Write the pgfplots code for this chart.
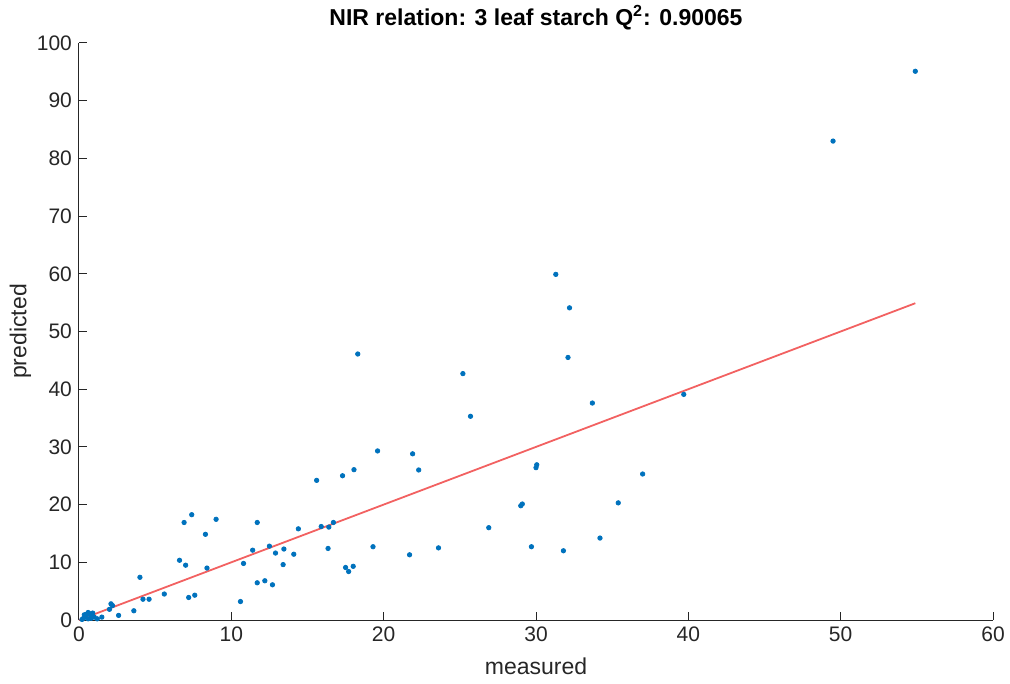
\documentclass[border=0pt]{standalone}
\usepackage{fontspec}
\setmainfont{Liberation Sans}
\usepackage{pgfplots}
\pgfplotsset{compat=1.18}
\definecolor{mblue}{rgb}{0,0.447,0.741}
\definecolor{mred}{rgb}{0.95,0.38,0.38}
\definecolor{axgray}{rgb}{0.15,0.15,0.15}
\begin{document}
\begin{tikzpicture}
\path[use as bounding box] (-39.5pt,-32pt) rectangle (465.5pt,310pt);
\begin{axis}[
  scale only axis,
  width=457pt, height=288.5pt,
  xmin=0, xmax=60, ymin=0, ymax=100,
  xtick={0,10,...,60}, ytick={0,10,...,100},
  axis x line*=bottom, axis y line*=left,
  xtick pos=left, ytick pos=left,
  tick align=inside,
  major tick length=4pt,
  axis line style={axgray, line width=0.5pt},
  tick style={axgray, line width=0.5pt},
  every tick label/.append style={font=\fontsize{10.5}{12}\selectfont, text=axgray},
  /pgf/number format/assume math mode=true,
  xlabel={measured}, ylabel={predicted},
  label style={font=\fontsize{11.5}{13}\selectfont, text=axgray},
  xlabel style={yshift=-1pt},
  ylabel style={yshift=-4pt},
  title={\textbf{NIR relation: 3 leaf starch Q\textsuperscript{2}: 0.90065}},
  title style={font=\fontsize{11.5}{13}\selectfont, yshift=-3pt},
]
\addplot[mred, line width=0.9pt] coordinates {(0,0) (54.9,54.9)};
\addplot[only marks, mark=*, mark size=1.1pt, mblue, mark options={draw=mblue, fill=mblue}] coordinates {
(54.9,95.1) (49.5,83.0) (31.3,59.9) (32.2,54.1) (18.3,46.1) (32.1,45.5)
(25.2,42.7) (33.7,37.6) (39.7,39.1) (25.7,35.3) (19.6,29.3) (21.9,28.8)
(22.3,26.0) (30.0,26.4) (30.05,26.9) (37.0,25.3) (15.6,24.2) (17.3,25.0)
(18.05,26.05) (29.0,19.8) (29.1,20.1) (35.4,20.3) (26.9,16.0) (34.2,14.2)
(29.7,12.7) (23.6,12.5) (31.8,12.0) (21.7,11.3) (19.3,12.7) (14.4,15.8)
(15.9,16.2) (16.4,16.1) (16.7,16.9) (12.5,12.8) (12.9,11.6) (13.45,12.3)
(14.1,11.4) (16.35,12.4) (13.4,9.6) (17.5,9.1) (17.7,8.4) (18.0,9.3)
(12.2,6.8) (12.7,6.1) (11.7,6.45) (7.4,18.25) (6.9,16.9) (9.0,17.45)
(11.7,16.9) (8.3,14.85) (11.4,12.1) (6.6,10.35) (7.0,9.5) (8.4,9.0)
(10.8,9.8) (5.6,4.5) (7.2,3.9) (7.6,4.3) (10.6,3.2) (4.0,7.4)
(4.2,3.6) (4.6,3.6) (3.6,1.6) (2.6,0.8) (2.1,2.8) (2.2,2.5)
(2.0,1.85) (1.5,0.5)
(0.2,0.1) (0.3,0.3) (0.4,0.6) (0.5,1.0) (0.6,1.3) (0.7,1.1)
(0.8,0.8) (0.9,1.2) (0.6,0.2) (1.0,0.5) (0.8,0.3) (0.35,0.9) (1.2,0.2)
};
\end{axis}
\end{tikzpicture}
\end{document}
